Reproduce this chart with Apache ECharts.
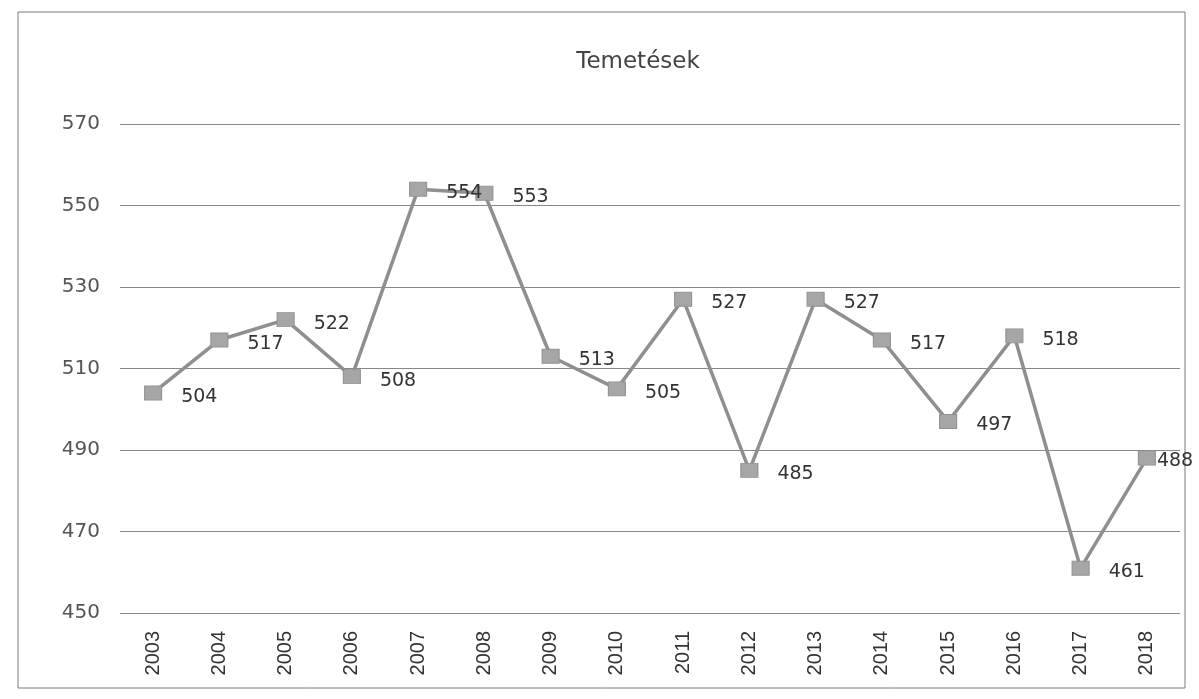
<!DOCTYPE html>
<html>
<head>
<meta charset="utf-8">
<script src="https://cdn.jsdelivr.net/npm/echarts@6/dist/echarts.min.js"></script>
<style>
html,body{margin:0;padding:0;background:#fff;}
#chart{width:1199px;height:699px;}
</style>
</head>
<body>
<div id="chart"></div>
<script>
const years = ['2003','2004','2005','2006','2007','2008','2009','2010','2011','2012','2013','2014','2015','2016','2017','2018'];
const burials = [504,517,522,508,554,553,513,505,527,485,527,517,497,518,461,488];
const titleText = 'Temetések';
const yMin = 450, yMax = 570, yStep = 20;

const seriesData = burials.map((v, i) => i === burials.length - 1
  ? {value: v, label: {offset: [-4, 3]}}
  : v);

const chart = echarts.init(document.getElementById('chart'));
chart.setOption({
  backgroundColor: '#fff',
  animation: false,
  graphic: [{
    type: 'rect',
    shape: {x: 18, y: 12, width: 1167, height: 676},
    style: {fill: 'none', stroke: '#7a7a7a', lineWidth: 1}
  }],
  title: {
    text: titleText,
    left: 633, top: 46, textAlign: 'center',
    textStyle: {fontFamily: 'DejaVu Sans', fontSize: 23, fontWeight: 'normal', color: '#444'}
  },
  grid: {left: 120, right: 19, top: 124, bottom: 86, containLabel: false},
  xAxis: {
    type: 'category',
    data: years,
    boundaryGap: true,
    axisLine: {show: false},
    axisTick: {show: false},
    axisLabel: {rotate: 90, margin: 18, fontFamily: 'Liberation Sans', fontSize: 20, color: '#333'}
  },
  yAxis: {
    type: 'value',
    min: yMin, max: yMax, interval: yStep,
    axisLine: {show: false},
    axisTick: {show: false},
    axisLabel: {margin: 20, fontFamily: 'DejaVu Sans', fontSize: 20, color: '#555'},
    splitLine: {lineStyle: {color: '#888', width: 1}}
  },
  series: [{
    type: 'line',
    data: seriesData,
    symbol: 'rect',
    symbolSize: [17, 14],
    lineStyle: {color: '#8f8f8f', width: 3.5},
    itemStyle: {color: '#a6a6a6', borderColor: '#929292', borderWidth: 1},
    label: {
      show: true, position: 'right', offset: [14, 4],
      fontFamily: 'DejaVu Sans', fontSize: 19, color: '#333'
    }
  }]
});
</script>
</body>
</html>
